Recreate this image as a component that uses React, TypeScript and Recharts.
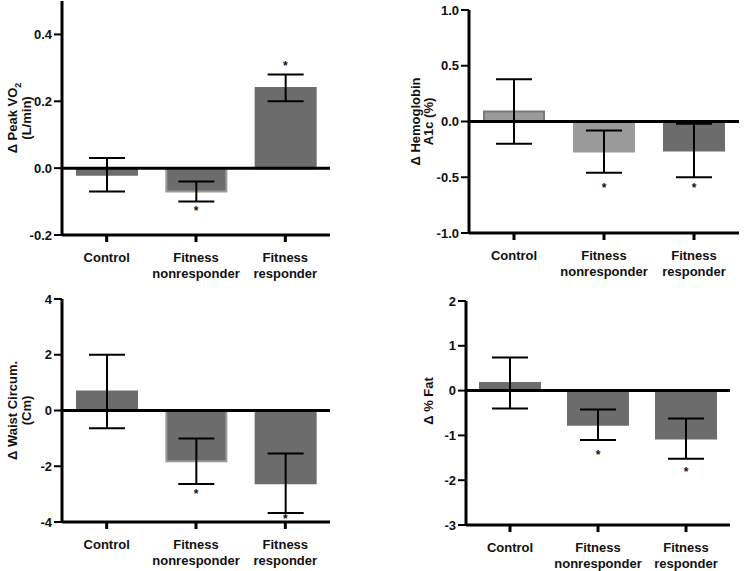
import React from 'react';
import { ComposedChart, Bar, Cell, ErrorBar, XAxis, YAxis, ReferenceLine, Scatter } from 'recharts';

const groups = ['Control', 'Fitness nonresponder', 'Fitness responder'];

// Δ Peak VO2 (L/min)
const vo2Mean = [-0.02, -0.07, 0.24];
const vo2Err = [0.05, 0.03, 0.04];
const vo2Star = [null, -0.12, 0.315];
const vo2Ticks = [-0.2, 0, 0.2, 0.4];

// Δ Hemoglobin A1c (%)
const a1cMean = [0.09, -0.27, -0.26];
const a1cErr = [0.29, 0.19, 0.24];
const a1cStar = [null, -0.57, -0.57];
const a1cTicks = [-1, -0.5, 0, 0.5, 1];

// Δ Waist circumference (cm)
const waistMean = [0.68, -1.82, -2.61];
const waistErr = [1.32, 0.82, 1.07];
const waistStar = [null, -2.89, -3.79];
const waistTicks = [-4, -2, 0, 2, 4];

// Δ % fat
const fatMean = [0.17, -0.76, -1.07];
const fatErr = [0.57, 0.34, 0.45];
const fatStar = [null, -1.38, -1.76];
const fatTicks = [-3, -2, -1, 0, 1, 2];

const FONT = '"Liberation Sans", Arial, Helvetica, sans-serif';
const DARK = '#6c6c6c';
const LIGHT = '#9a9a9a';

const CatTick = (props: any) => {
  const { x, y, payload } = props;
  const lines = String(payload.value).split(' ');
  return (
    <text x={x} y={y} textAnchor="middle" fontFamily={FONT} fontWeight="bold" fontSize={13} fill="#111">
      {lines.map((l, i) => (
        <tspan key={i} x={x} dy={i === 0 ? 18 : 16}>{l}</tspan>
      ))}
    </text>
  );
};

// "_2" marks a subscript
const LabelLine = ({ text }: { text: string }) => {
  const parts = text.split('_');
  if (parts.length === 1) return <>{text}</>;
  return (
    <>
      {parts[0]}
      <tspan fontSize={9} dy={4}>{parts[1]}</tspan>
    </>
  );
};

interface PanelProps {
  left: number;
  top: number;
  width: number;
  height: number;
  axisX: number;
  plotRight: number;
  plotTop: number;
  plotBottom: number;
  mean: number[];
  err: number[];
  star: (number | null)[];
  ticks: number[];
  domain: [number, number];
  decimals: number;
  fills: string[];
  strokes: string[];
  label: string[];
  labelX: number[];
  labelShift?: number;
}

const Panel = (p: PanelProps) => {
  const data = groups.map((g, i) => ({ name: g, mean: p.mean[i], err: p.err[i], star: p.star[i] }));
  const yLabel = (lp: any) => {
    const vb = lp.viewBox || {};
    const cy = vb.y + vb.height / 2 + (p.labelShift || 0);
    return (
      <g>
        {p.label.map((t, i) => (
          <text
            key={i}
            x={p.labelX[i]}
            y={cy}
            transform={`rotate(-90, ${p.labelX[i]}, ${cy})`}
            textAnchor="middle"
            fontFamily={FONT}
            fontWeight="bold"
            fontSize={13}
            fill="#111"
          >
            <LabelLine text={t} />
          </text>
        ))}
      </g>
    );
  };
  return (
    <div style={{ position: 'absolute', left: p.left, top: p.top }}>
      <ComposedChart
        width={p.width}
        height={p.height}
        data={data}
        margin={{ top: p.plotTop, right: p.width - p.plotRight, left: 0, bottom: 0 }}
      >
        <XAxis
          dataKey="name"
          type="category"
          height={p.height - p.plotBottom}
          axisLine={{ stroke: '#000', strokeWidth: 3 }}
          tickLine={{ stroke: '#000', strokeWidth: 3 }}
          tickSize={7}
          tickMargin={2}
          interval={0}
          tick={<CatTick />}
        />
        <YAxis
          type="number"
          domain={p.domain}
          ticks={p.ticks}
          width={p.axisX}
          axisLine={{ stroke: '#000', strokeWidth: 3 }}
          tickLine={{ stroke: '#000', strokeWidth: 2 }}
          tickSize={8}
          tickMargin={2}
          tickFormatter={(v: number) => v.toFixed(p.decimals)}
          tick={{ fontSize: 13, fontWeight: 'bold', fill: '#111', fontFamily: FONT }}
          label={{ content: yLabel }}
        />
        <Bar dataKey="mean" barSize={60} isAnimationActive={false}>
          {data.map((d, i) => (
            <Cell key={i} fill={p.fills[i]} stroke={p.strokes[i]} strokeWidth={2} />
          ))}
          <ErrorBar dataKey="err" width={18} stroke="#000" strokeWidth={2} direction="y" />
        </Bar>
        <ReferenceLine y={0} stroke="#000" strokeWidth={3} />
        <Scatter
          dataKey="star"
          isAnimationActive={false}
          shape={(s: any) =>
            s.payload.star == null ? <g /> : (
              <text x={s.cx} y={s.cy + 7} textAnchor="middle" fontFamily={FONT} fontWeight="bold" fontSize={12} fill="#111">*</text>
            )
          }
        />
      </ComposedChart>
    </div>
  );
};

export default function App() {
  return (
    <div style={{ position: 'absolute', left: 0, top: 0, width: 745, height: 571, background: '#fff' }}>
      <Panel
        left={0} top={0} width={340} height={290} axisX={62} plotRight={330} plotTop={1} plotBottom={235}
        mean={vo2Mean} err={vo2Err} star={vo2Star} ticks={vo2Ticks} domain={[-0.2, 0.5]} decimals={1}
        fills={[DARK, DARK, DARK]} strokes={[DARK, LIGHT, DARK]}
        label={['Δ Peak VO_2', '(L/min)']} labelX={[17, 31]}
      />
      <Panel
        left={372} top={0} width={373} height={290} axisX={97} plotRight={367} plotTop={10} plotBottom={233}
        mean={a1cMean} err={a1cErr} star={a1cStar} ticks={a1cTicks} domain={[-1, 1]} decimals={1}
        fills={[LIGHT, LIGHT, DARK]} strokes={['#7a7a7a', LIGHT, DARK]}
        label={['Δ Hemoglobin', 'A1c (%)']} labelX={[48, 61]}
      />
      <Panel
        left={0} top={285} width={340} height={286} axisX={62} plotRight={330} plotTop={14} plotBottom={237}
        mean={waistMean} err={waistErr} star={waistStar} ticks={waistTicks} domain={[-4, 4]} decimals={0}
        fills={[DARK, DARK, DARK]} strokes={[DARK, LIGHT, DARK]}
        label={['Δ Waist Circum.', '(Cm)']} labelX={[17, 31]}
      />
      <Panel
        left={372} top={285} width={373} height={286} axisX={94} plotRight={358} plotTop={16} plotBottom={240}
        mean={fatMean} err={fatErr} star={fatStar} ticks={fatTicks} domain={[-3, 2]} decimals={0}
        fills={[DARK, DARK, DARK]} strokes={[DARK, DARK, DARK]}
        label={['Δ % Fat']} labelX={[61]} labelShift={-12}
      />
    </div>
  );
}
